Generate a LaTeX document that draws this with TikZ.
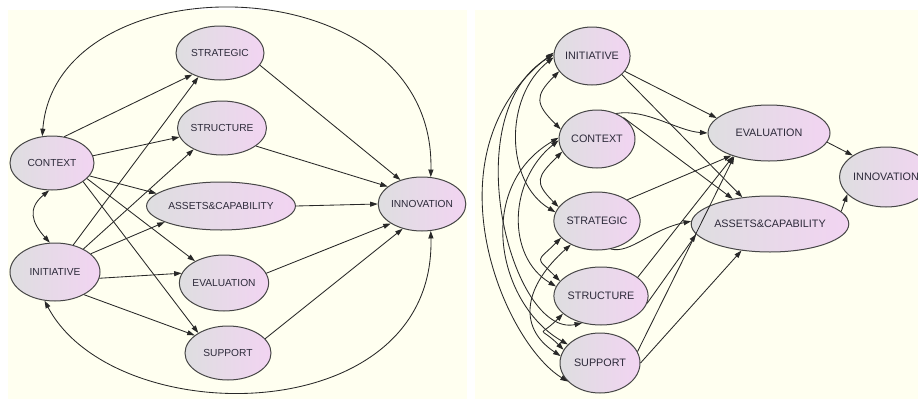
\documentclass[tikz,border=0pt]{standalone}
\usepackage{fontspec}
\newfontfamily\labelfont{Liberation Sans}
\usepackage{tikz}
\usetikzlibrary{shapes.geometric,arrows.meta,shadings}

\definecolor{paper}{RGB}{255,255,240}
\definecolor{varleft}{RGB}{222,222,224}
\definecolor{varright}{RGB}{242,212,242}
\definecolor{varline}{RGB}{70,70,70}
\definecolor{vartext}{RGB}{45,42,58}
\definecolor{edgeline}{RGB}{40,40,40}

\begin{document}
\begin{tikzpicture}[
    x=1pt, y=1pt,
    var/.style={ellipse, draw=varline, line width=1pt, inner sep=0pt,
      left color=varleft, right color=varright, text=vartext,
      font=\labelfont\fontsize{10.2}{12}\selectfont},
    rvar/.style={var, font=\labelfont\fontsize{10.8}{12}\selectfont},
    arr/.style={-{Triangle[length=7.5pt,width=5pt]}, line width=0.85pt, draw=edgeline},
    darr/.style={{Triangle[length=7.5pt,width=5pt]}-{Triangle[length=7.5pt,width=5pt]}, line width=0.85pt, draw=edgeline},
  ]
    \useasboundingbox (0,0) rectangle (918,-399);
    \fill[paper] (8,-10) rectangle (467,-399);
    \fill[paper] (475,-10) rectangle (918,-399);

    % Left model
    \node[var, minimum width=88pt, minimum height=54pt] (lstrat) at (220,-53) {STRATEGIC};
    \node[var, minimum width=84pt, minimum height=54pt] (lstruc) at (222,-128) {STRUCTURE};
    \node[var, minimum width=136pt, minimum height=48pt] (lasset) at (221,-206) {ASSETS\&CAPABILITY};
    \node[var, minimum width=88pt, minimum height=56pt] (leval) at (224,-283) {EVALUATION};
    \node[var, minimum width=86pt, minimum height=54pt] (lsupp) at (228,-353) {SUPPORT};
    \node[var, minimum width=84pt, minimum height=54pt] (lcont) at (52,-163) {CONTEXT};
    \node[var, minimum width=90pt, minimum height=58pt] (linit) at (55,-272) {INITIATIVE};
    \node[var, minimum width=86pt, minimum height=54pt] (linnov) at (422,-204) {INNOVATION};

    % Left model: paths
    \draw[arr] (lcont.65) -- (lstrat.218);
    \draw[arr] (lcont.10) -- (lstruc.192);
    \draw[arr] (lcont.341) -- (lasset.169);
    \draw[arr] (lcont.336) -- (leval.143);
    \draw[arr] (lcont.329) -- (lsupp.146);
    \draw[arr] (linit.56) -- (lstrat.228);
    \draw[arr] (linit.39) -- (lstruc.217);
    \draw[arr] (linit.27) -- (lasset.196);
    \draw[arr] (linit.352) -- (leval.167);
    \draw[arr] (linit.322) -- (lsupp.152);
    \draw[arr] (lstrat.343) -- (linnov.132);
    \draw[arr] (lstruc.332) -- (linnov.153);
    \draw[arr] (lasset.east) -- (linnov.west);
    \draw[arr] (leval.13) -- (linnov.212);
    \draw[arr] (lsupp.21) -- (linnov.232);

    % Left model: covariances
    \draw[darr] (lcont.264) .. controls +(-22,-18) and +(-18,20) .. (linit.100);
    \draw[darr] (lcont.110) .. controls +(14,178) and +(5,215) .. (linnov.72);
    \draw[darr] (linit.250) .. controls +(70,-132) and +(5,-200) .. (linnov.288);

    % Right model
    \node[rvar, minimum width=76pt, minimum height=58pt] (rinit) at (592,-56) {INITIATIVE};
    \node[rvar, minimum width=76pt, minimum height=58pt] (rcont) at (597,-139) {CONTEXT};
    \node[rvar, minimum width=82pt, minimum height=58pt] (rstrat) at (597,-221) {STRATEGIC};
    \node[rvar, minimum width=76pt, minimum height=58pt] (rstruc) at (601,-296) {STRUCTURE};
    \node[rvar, minimum width=80pt, minimum height=60pt] (rsupp) at (600,-363) {SUPPORT};
    \node[rvar, minimum width=122pt, minimum height=56pt] (reval) at (769,-133) {EVALUATION};
    \node[rvar, minimum width=134pt, minimum height=56pt] (rasset) at (770,-224) {ASSETS\&CAPABILITY};
    \node[rvar, minimum width=80pt, minimum height=60pt] (rinnov) at (886,-177) {INNOVATION};

    % Right model: paths
    \draw[arr] (rinit.335) -- (reval.164);
    \draw[arr] (rinit.328) -- (rasset.136);
    \draw[arr] (rcont.53) .. controls +(30,5) and +(-30,2) .. (reval.west);
    \draw[arr] (rcont.39) -- (rasset.146);
    \draw[arr] (rstrat.35) -- (reval.211);
    \draw[arr] (rstrat.296) .. controls +(20,-5) and +(-40,-8) .. (rasset.178);
    \draw[arr] (rstruc.27) -- (reval.213);
    \draw[arr] (rstruc.351) -- (rasset.188);
    \draw[arr] (rsupp.17) -- (reval.214);
    \draw[arr] (rsupp.east) -- (rasset.223);
    \draw[arr] (reval.351) -- (rinnov.147);
    \draw[arr] (rasset.10) -- (rinnov.204);

    % Right model: covariances
    \draw[darr] (rinit.205) .. controls +(-25,-25) and +(-25,25) .. (rcont.165);
    \draw[darr] (rcont.200) .. controls +(-25,-25) and +(-25,25) .. (rstrat.160);
    \draw[darr] (rstrat.205) .. controls +(-25,-25) and +(-25,25) .. (rstruc.160);
    \draw[darr] (rstruc.205) .. controls +(-25,-25) and +(-25,25) .. (rsupp.160);
    \draw[darr] (rinit.182) .. controls +(-50,-40) and +(-50,30) .. (rstrat.168);
    \draw[darr] (rcont.182) .. controls +(-50,-40) and +(-50,30) .. (rstruc.168);
    \draw[darr] (rstrat.222) .. controls +(-45,-40) and +(-45,30) .. (rsupp.170);
    \draw[darr] (rinit.178) .. controls +(-100,-60) and +(-70,-15) .. (rstruc.235);
    \draw[darr] (rcont.178) .. controls +(-85,-50) and +(-70,40) .. (rsupp.150);
    \draw[darr] (rinit.175) .. controls +(-130,-100) and +(-65,40) .. (rsupp.210);
  \end{tikzpicture}
\end{document}
